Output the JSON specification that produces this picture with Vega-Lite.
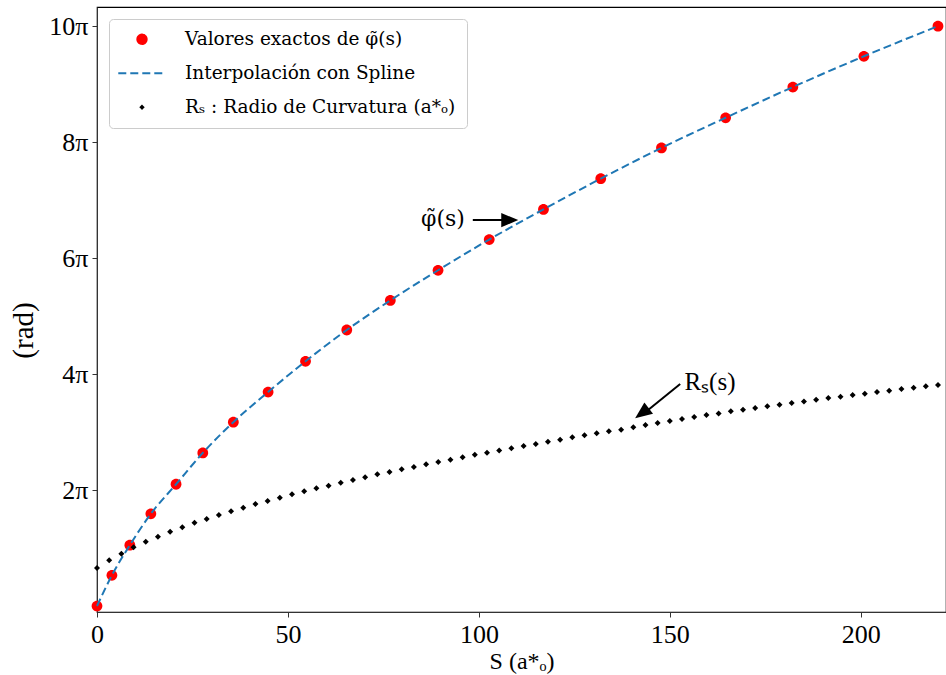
{
  "$schema": "https://vega.github.io/schema/vega-lite/v6.json",
  "autosize": "none",
  "width": 849,
  "height": 605,
  "padding": {"left": 97, "top": 7, "right": 0, "bottom": 63},
  "background": "white",
  "config": {
    "font": "Liberation Serif",
    "view": {"stroke": "black", "strokeWidth": 1.2},
    "axis": {"grid": false, "labelFont": "Liberation Serif", "titleFont": "Liberation Serif", "labelColor": "black", "titleColor": "black", "domainColor": "#333", "tickColor": "#333", "titleFontWeight": "normal"},
    "legend": {"symbolStrokeWidth": 2, "symbolSize": 120}
  },
  "datasets": {
    "phi": [
      {"s": 0, "v": 0}, {"s": 3.9, "v": 0.53}, {"s": 8.6, "v": 1.05}, {"s": 14.1, "v": 1.59},
      {"s": 20.7, "v": 2.10}, {"s": 27.7, "v": 2.64}, {"s": 35.7, "v": 3.17}, {"s": 44.8, "v": 3.69},
      {"s": 54.6, "v": 4.22}, {"s": 65.4, "v": 4.76}, {"s": 76.8, "v": 5.27}, {"s": 89.3, "v": 5.79},
      {"s": 102.7, "v": 6.32}, {"s": 116.9, "v": 6.84}, {"s": 131.9, "v": 7.37}, {"s": 147.8, "v": 7.90},
      {"s": 164.6, "v": 8.42}, {"s": 182.2, "v": 8.95}, {"s": 200.8, "v": 9.48}, {"s": 220.2, "v": 10.0}
    ],
    "rs": [
      {"s": 0, "v": 0.655}, {"s": 3.19, "v": 0.788}, {"s": 6.38, "v": 0.902}, {"s": 9.57, "v": 1.012},
      {"s": 12.77, "v": 1.109}, {"s": 15.96, "v": 1.195}, {"s": 19.15, "v": 1.281}, {"s": 22.34, "v": 1.357},
      {"s": 25.53, "v": 1.436}, {"s": 28.72, "v": 1.5}, {"s": 31.91, "v": 1.569}, {"s": 35.1, "v": 1.633},
      {"s": 38.3, "v": 1.695}, {"s": 41.49, "v": 1.759}, {"s": 44.68, "v": 1.81}, {"s": 47.87, "v": 1.867},
      {"s": 51.06, "v": 1.926}, {"s": 54.25, "v": 1.978}, {"s": 57.44, "v": 2.029}, {"s": 60.63, "v": 2.074},
      {"s": 63.83, "v": 2.126}, {"s": 67.02, "v": 2.172}, {"s": 70.21, "v": 2.219}, {"s": 73.4, "v": 2.271},
      {"s": 76.59, "v": 2.31}, {"s": 79.78, "v": 2.357}, {"s": 82.97, "v": 2.397}, {"s": 86.17, "v": 2.443},
      {"s": 89.36, "v": 2.483}, {"s": 92.55, "v": 2.522}, {"s": 95.74, "v": 2.564}, {"s": 98.93, "v": 2.609},
      {"s": 102.12, "v": 2.643}, {"s": 105.31, "v": 2.684}, {"s": 108.5, "v": 2.719}, {"s": 111.7, "v": 2.759},
      {"s": 114.89, "v": 2.793}, {"s": 118.08, "v": 2.833}, {"s": 121.27, "v": 2.867}, {"s": 124.46, "v": 2.909},
      {"s": 127.65, "v": 2.943}, {"s": 130.84, "v": 2.978}, {"s": 134.03, "v": 3.012}, {"s": 137.23, "v": 3.041},
      {"s": 140.42, "v": 3.081}, {"s": 143.61, "v": 3.121}, {"s": 146.8, "v": 3.155}, {"s": 149.99, "v": 3.19},
      {"s": 153.18, "v": 3.224}, {"s": 156.37, "v": 3.259}, {"s": 159.57, "v": 3.293}, {"s": 162.76, "v": 3.322},
      {"s": 165.95, "v": 3.357}, {"s": 169.14, "v": 3.384}, {"s": 172.33, "v": 3.414}, {"s": 175.52, "v": 3.443},
      {"s": 178.71, "v": 3.471}, {"s": 181.9, "v": 3.5}, {"s": 185.1, "v": 3.529}, {"s": 188.29, "v": 3.557},
      {"s": 191.48, "v": 3.586}, {"s": 194.67, "v": 3.609}, {"s": 197.86, "v": 3.638}, {"s": 201.05, "v": 3.66},
      {"s": 204.24, "v": 3.69}, {"s": 207.43, "v": 3.712}, {"s": 210.63, "v": 3.741}, {"s": 213.82, "v": 3.764},
      {"s": 217.01, "v": 3.788}, {"s": 220.2, "v": 3.81}
    ],
    "arrows": [
      {"id": "phi", "s": 98.4, "v": 6.655}, {"id": "phi", "s": 107.0, "v": 6.655},
      {"id": "rs", "s": 152.7, "v": 3.83}, {"id": "rs", "s": 144.3, "v": 3.38}
    ],
    "heads": [
      {"s": 110.3, "v": 6.655, "ang": 0},
      {"s": 140.9, "v": 3.236, "ang": 143}
    ],
    "lab1": [{"s": 90.6, "v": 6.68, "t": "φ̃(s)"}],
    "lab2": [{"s": 160.5, "v": 3.87, "t": "Rₛ(s)"}]
  },
  "layer": [
    {
      "data": {"name": "phi"},
      "transform": [{"calculate": "'Valores exactos de φ̃(s)'", "as": "serie"}],
      "mark": {"type": "point", "filled": true, "opacity": 1, "size": 160},
      "encoding": {
        "x": {"field": "s", "type": "quantitative", "scale": {"domain": [0, 222.3], "nice": false, "zero": false},
          "axis": {"values": [0, 50, 100, 150, 200], "title": "S (a*ₒ)", "labelFontSize": 26, "titleFontSize": 24, "labelPadding": 4, "tickSize": 5, "titlePadding": 2, "labelFlush": false}},
        "y": {"field": "v", "type": "quantitative", "scale": {"domain": [-0.103, 10.33], "nice": false, "zero": false},
          "axis": {"values": [0, 2, 4, 6, 8, 10], "labelExpr": "datum.value == 0 ? '' : datum.value + 'π'", "title": "(rad)", "labelFontSize": 26, "titleFontSize": 29, "tickSize": 5, "labelPadding": 4, "titlePadding": 10, "titleY": 323, "labelFlush": false}},
        "color": {"field": "serie", "type": "nominal",
          "scale": {"domain": ["Valores exactos de φ̃(s)", "Interpolación con Spline", "Rₛ : Radio de Curvatura (a*ₒ)"], "range": ["#ff0000", "#1f77b4", "#000000"]},
          "legend": {"title": null, "orient": "top-left", "offset": 12, "padding": 11, "strokeColor": "#cccccc", "cornerRadius": 4, "fillColor": "white",
            "labelFont": "DejaVu Serif", "labelFontSize": 18.5, "labelLimit": 500, "labelOffset": 33.75, "symbolOffset": 12.75, "rowPadding": 15}},
        "shape": {"field": "serie", "type": "nominal",
          "scale": {"domain": ["Valores exactos de φ̃(s)", "Interpolación con Spline", "Rₛ : Radio de Curvatura (a*ₒ)"],
            "range": ["M-0.85,0A0.85,0.85,0,1,1,0.85,0A0.85,0.85,0,1,1,-0.85,0Z", "M-4.33,0H4.33", "M0,-0.24L0.24,0L0,0.24L-0.24,0Z"]},
          "legend": {"title": null, "orient": "top-left", "offset": 12, "padding": 11, "strokeColor": "#cccccc", "cornerRadius": 4, "fillColor": "white",
            "labelFont": "DejaVu Serif", "labelFontSize": 18.5, "labelLimit": 500, "labelOffset": 33.75, "symbolOffset": 12.75, "rowPadding": 15}},
        "strokeDash": {"field": "serie", "type": "nominal",
          "scale": {"domain": ["Valores exactos de φ̃(s)", "Interpolación con Spline", "Rₛ : Radio de Curvatura (a*ₒ)"], "range": [[1, 0], [8, 4], [1, 0]]}}
      }
    },
    {
      "data": {"name": "phi"},
      "transform": [{"calculate": "'Interpolación con Spline'", "as": "serie"}],
      "mark": {"type": "line", "interpolate": "monotone", "strokeWidth": 2},
      "encoding": {
        "x": {"field": "s", "type": "quantitative"},
        "y": {"field": "v", "type": "quantitative"},
        "color": {"field": "serie", "type": "nominal"},
        "strokeDash": {"field": "serie", "type": "nominal"}
      }
    },
    {
      "data": {"name": "rs"},
      "transform": [{"calculate": "'Rₛ : Radio de Curvatura (a*ₒ)'", "as": "serie"}],
      "mark": {"type": "point", "filled": true, "opacity": 1, "size": 625},
      "encoding": {
        "x": {"field": "s", "type": "quantitative"},
        "y": {"field": "v", "type": "quantitative"},
        "color": {"field": "serie", "type": "nominal"},
        "shape": {"field": "serie", "type": "nominal"}
      }
    },
    {
      "data": {"name": "arrows"},
      "mark": {"type": "line", "color": "black", "strokeWidth": 2},
      "encoding": {
        "x": {"field": "s", "type": "quantitative"},
        "y": {"field": "v", "type": "quantitative"},
        "detail": {"field": "id"}
      }
    },
    {
      "data": {"name": "heads"},
      "mark": {"type": "point", "shape": "M0,0L-1,-0.42L-1,0.42Z", "filled": true, "color": "black", "opacity": 1, "size": 1156},
      "encoding": {
        "x": {"field": "s", "type": "quantitative"},
        "y": {"field": "v", "type": "quantitative"},
        "angle": {"field": "ang", "type": "quantitative", "scale": null}
      }
    },
    {
      "data": {"name": "lab1"},
      "mark": {"type": "text", "color": "black", "font": "DejaVu Serif", "fontSize": 22},
      "encoding": {
        "x": {"field": "s", "type": "quantitative"},
        "y": {"field": "v", "type": "quantitative"},
        "text": {"field": "t"}
      }
    },
    {
      "data": {"name": "lab2"},
      "mark": {"type": "text", "color": "black", "font": "Liberation Serif", "fontSize": 25},
      "encoding": {
        "x": {"field": "s", "type": "quantitative"},
        "y": {"field": "v", "type": "quantitative"},
        "text": {"field": "t"}
      }
    }
  ]
}
